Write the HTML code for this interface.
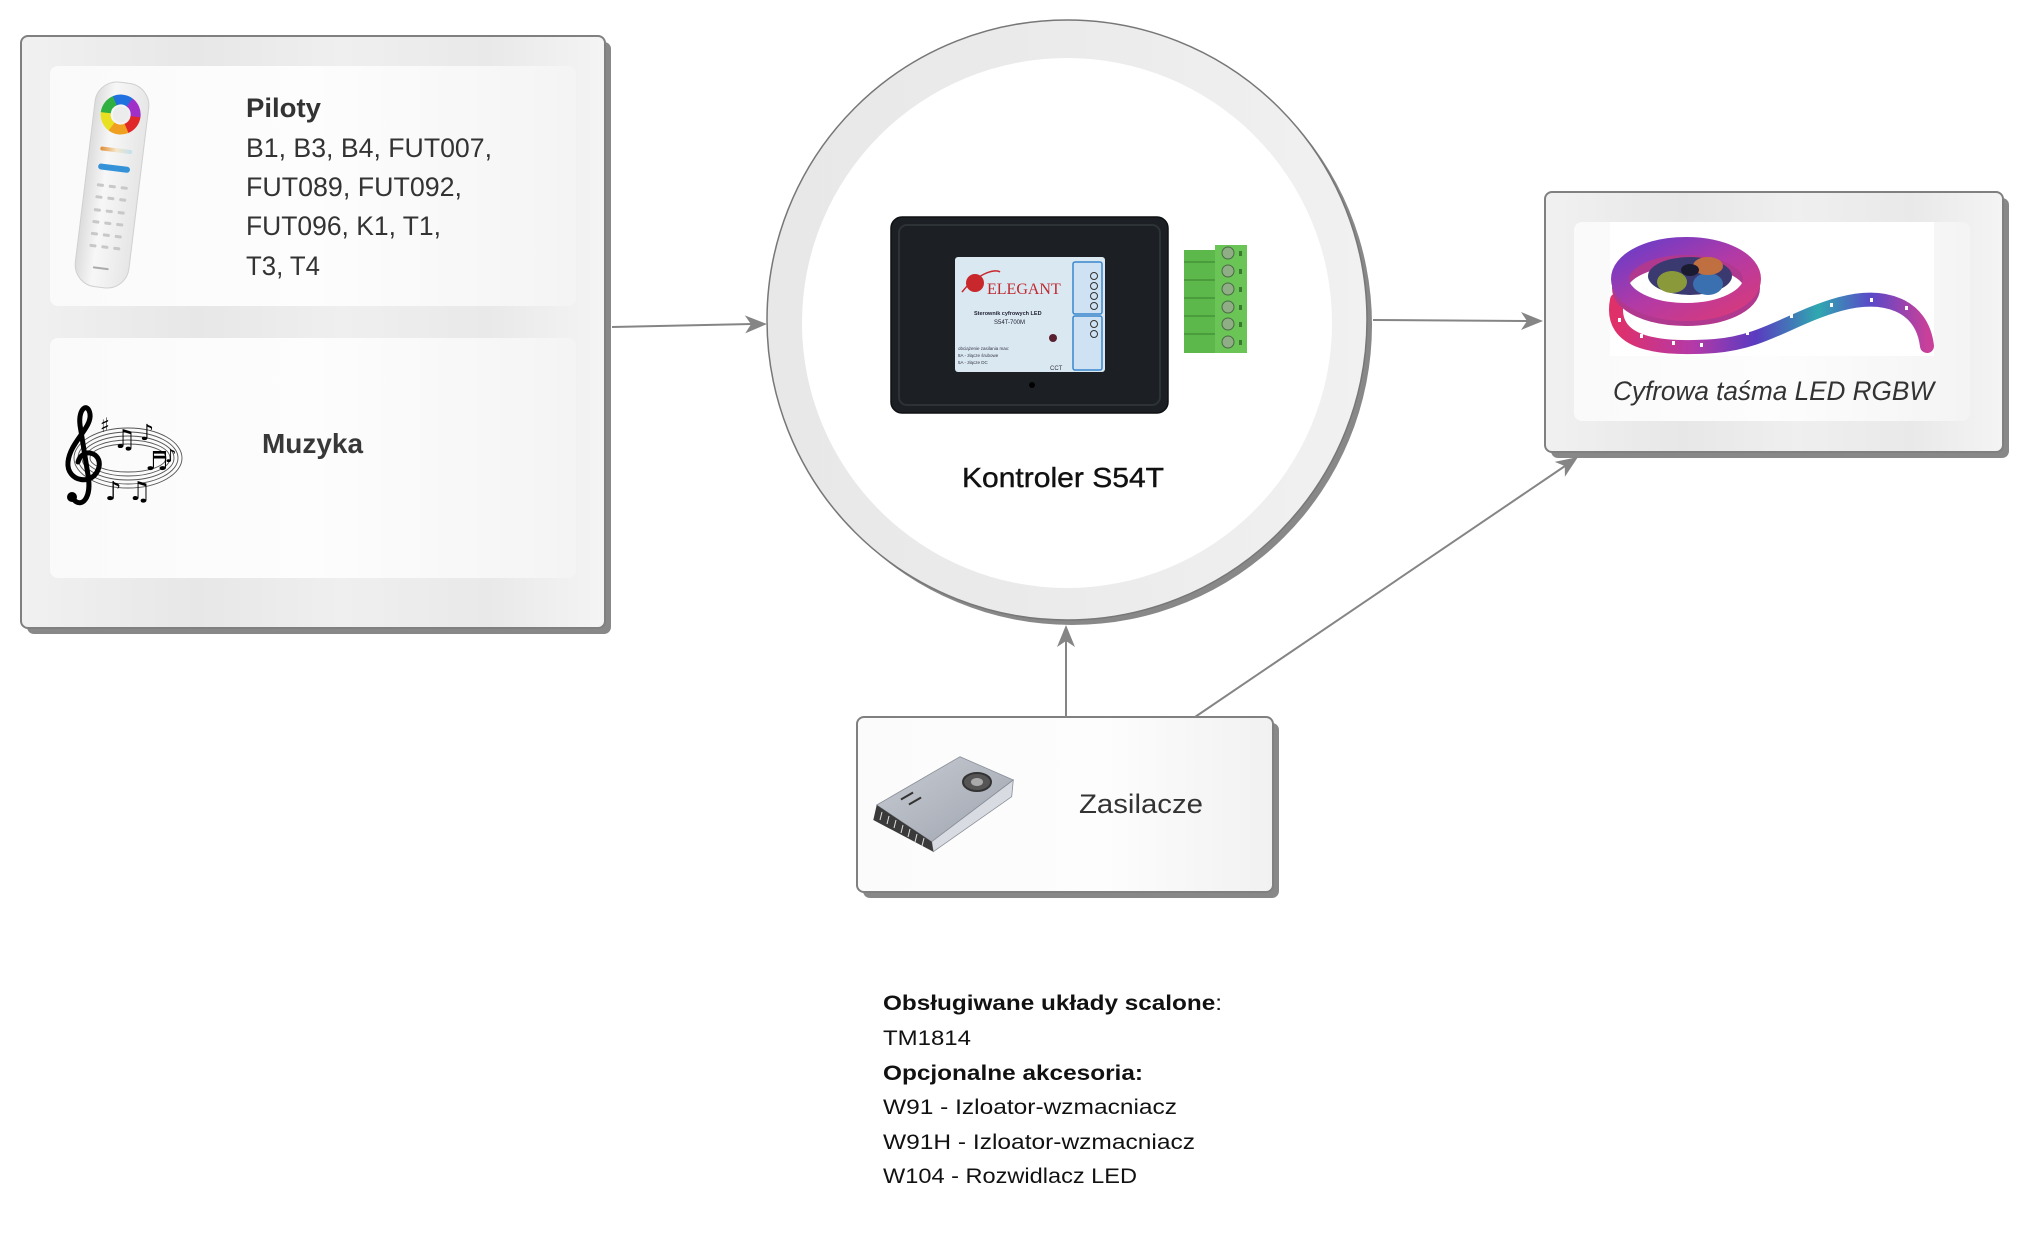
<!DOCTYPE html>
<html>
<head>
<meta charset="utf-8">
<style>
  html,body{margin:0;padding:0;background:#fff;}
  body{width:2030px;height:1244px;overflow:hidden;}
  svg{display:block;}
  text{font-family:"Liberation Sans", sans-serif;}
</style>
</head>
<body>
<svg width="2030" height="1244" viewBox="0 0 2030 1244" xmlns="http://www.w3.org/2000/svg">
  <defs>
    <linearGradient id="outerG" x1="0" y1="0" x2="1" y2="0">
      <stop offset="0" stop-color="#f1f1f1"/>
      <stop offset="0.3" stop-color="#e7e7e7"/>
      <stop offset="0.55" stop-color="#efefef"/>
      <stop offset="0.8" stop-color="#e9e9e9"/>
      <stop offset="1" stop-color="#f4f4f4"/>
    </linearGradient>
    <linearGradient id="innerG" x1="0" y1="0" x2="1" y2="0">
      <stop offset="0" stop-color="#fafafa"/>
      <stop offset="0.5" stop-color="#fdfdfd"/>
      <stop offset="1" stop-color="#f4f4f4"/>
    </linearGradient>
    <linearGradient id="botG" x1="0" y1="0" x2="1" y2="0">
      <stop offset="0" stop-color="#fbfbfb"/>
      <stop offset="0.6" stop-color="#fdfdfd"/>
      <stop offset="1" stop-color="#f1f1f1"/>
    </linearGradient>
    <linearGradient id="ringG" x1="0" y1="0" x2="1" y2="0">
      <stop offset="0" stop-color="#e8e8e8"/>
      <stop offset="0.5" stop-color="#ebebeb"/>
      <stop offset="1" stop-color="#f1f1f1"/>
    </linearGradient>
    <linearGradient id="ledG" x1="0" y1="0" x2="1" y2="0">
      <stop offset="0" stop-color="#e0306a"/>
      <stop offset="0.25" stop-color="#b33aa8"/>
      <stop offset="0.45" stop-color="#5a3bc0"/>
      <stop offset="0.65" stop-color="#2fa8b0"/>
      <stop offset="0.82" stop-color="#5a48c8"/>
      <stop offset="1" stop-color="#c8409a"/>
    </linearGradient>
    <linearGradient id="coilG" x1="0" y1="0" x2="1" y2="1">
      <stop offset="0" stop-color="#6a3cc8"/>
      <stop offset="0.5" stop-color="#b23aa6"/>
      <stop offset="1" stop-color="#d83a7a"/>
    </linearGradient>
    <linearGradient id="remoteG" x1="0" y1="0" x2="1" y2="0">
      <stop offset="0" stop-color="#dcdcdc"/>
      <stop offset="0.35" stop-color="#f7f7f7"/>
      <stop offset="1" stop-color="#e6e6e6"/>
    </linearGradient>
    <linearGradient id="stripG" x1="0" y1="0" x2="1" y2="0">
      <stop offset="0" stop-color="#e08a30"/>
      <stop offset="0.5" stop-color="#f5e6c8"/>
      <stop offset="1" stop-color="#bfe0f0"/>
    </linearGradient>
    <linearGradient id="psTop" x1="0" y1="0" x2="1" y2="1">
      <stop offset="0" stop-color="#c8ccd4"/>
      <stop offset="1" stop-color="#9ea4ae"/>
    </linearGradient>
  </defs>

  <!-- ===== Left box ===== -->
  <rect x="27" y="42" width="584" height="592" rx="7" fill="#888"/>
  <rect x="21" y="36" width="584" height="592" rx="7" fill="url(#outerG)" stroke="#808080" stroke-width="2"/>
  <rect x="50" y="66" width="526" height="240" rx="8" fill="url(#innerG)"/>
  <rect x="50" y="338" width="526" height="240" rx="8" fill="url(#innerG)"/>

  <!-- remote -->
  <g transform="rotate(7 112 185)">
    <rect x="85" y="82" width="54" height="206" rx="22" fill="url(#remoteG)" stroke="#d0d0d0" stroke-width="1"/>
    <g fill="none" stroke-width="10">
      <circle cx="112" cy="114" r="15" stroke="#e02828" stroke-dasharray="16 100" transform="rotate(0 112 114)"/>
      <circle cx="112" cy="114" r="15" stroke="#f0a020" stroke-dasharray="16 100" transform="rotate(60 112 114)"/>
      <circle cx="112" cy="114" r="15" stroke="#e8e020" stroke-dasharray="16 100" transform="rotate(120 112 114)"/>
      <circle cx="112" cy="114" r="15" stroke="#30b040" stroke-dasharray="16 100" transform="rotate(180 112 114)"/>
      <circle cx="112" cy="114" r="15" stroke="#2070e0" stroke-dasharray="16 100" transform="rotate(240 112 114)"/>
      <circle cx="112" cy="114" r="15" stroke="#a030c8" stroke-dasharray="16 100" transform="rotate(300 112 114)"/>
    </g>
    <circle cx="112" cy="114" r="8" fill="#ececec"/>
    <rect x="96" y="148" width="32" height="4" rx="2" fill="url(#stripG)"/>
    <rect x="96" y="165" width="32" height="6" rx="3" fill="#3592d8"/>
    <g fill="#c8c8c8">
      <rect x="97" y="185" width="7" height="3" rx="1"/><rect x="109" y="185" width="7" height="3" rx="1"/><rect x="121" y="185" width="7" height="3" rx="1"/>
      <rect x="97" y="197" width="7" height="3" rx="1"/><rect x="109" y="197" width="7" height="3" rx="1"/><rect x="121" y="197" width="7" height="3" rx="1"/>
      <rect x="97" y="210" width="7" height="3" rx="1"/><rect x="109" y="210" width="7" height="3" rx="1"/><rect x="121" y="210" width="7" height="3" rx="1"/>
      <rect x="97" y="222" width="7" height="3" rx="1"/><rect x="109" y="222" width="7" height="3" rx="1"/><rect x="121" y="222" width="7" height="3" rx="1"/>
      <rect x="97" y="234" width="7" height="3" rx="1"/><rect x="109" y="234" width="7" height="3" rx="1"/><rect x="121" y="234" width="7" height="3" rx="1"/>
      <rect x="97" y="246" width="7" height="3" rx="1"/><rect x="109" y="246" width="7" height="3" rx="1"/><rect x="121" y="246" width="7" height="3" rx="1"/>
      <rect x="103" y="268" width="16" height="2" rx="1" fill="#aaa"/>
    </g>
  </g>

  <!-- Piloty text -->
  <text x="246" y="117" font-size="27" font-weight="bold" fill="#333" textLength="75" lengthAdjust="spacingAndGlyphs">Piloty</text>
  <text x="246" y="157" font-size="27" fill="#333" textLength="246" lengthAdjust="spacingAndGlyphs">B1, B3, B4, FUT007,</text>
  <text x="246" y="196" font-size="27" fill="#333" textLength="216" lengthAdjust="spacingAndGlyphs">FUT089, FUT092,</text>
  <text x="246" y="235" font-size="27" fill="#333" textLength="195" lengthAdjust="spacingAndGlyphs">FUT096, K1, T1,</text>
  <text x="246" y="275" font-size="27" fill="#333" textLength="74" lengthAdjust="spacingAndGlyphs">T3, T4</text>

  <!-- music image -->
  <g fill="none" stroke="#555" stroke-width="0.9">
    <ellipse cx="128" cy="458" rx="54" ry="30"/>
    <ellipse cx="128" cy="458" rx="50" ry="26"/>
    <ellipse cx="128" cy="458" rx="46" ry="22"/>
    <ellipse cx="128" cy="458" rx="42" ry="18"/>
    <ellipse cx="128" cy="458" rx="38" ry="14"/>
  </g>
  <path d="M74,500 C82,508 92,498 88,475 L80,425 C78,408 88,402 90,414 C92,428 70,442 68,462 C66,482 94,487 99,467 C102,452 82,447 78,462" fill="none" stroke="#000" stroke-width="5" stroke-linecap="round"/>
  <circle cx="72" cy="497" r="5" fill="#000"/>
  <text x="100" y="432" font-size="20" fill="#000" style="font-family:'DejaVu Sans',sans-serif">♯</text>
  <text x="113" y="448" font-size="26" fill="#000" style="font-family:'DejaVu Sans',sans-serif">♫</text>
  <text x="140" y="440" font-size="22" fill="#000" style="font-family:'DejaVu Sans',sans-serif">♪</text>
  <text x="145" y="470" font-size="26" fill="#000" style="font-family:'DejaVu Sans',sans-serif">♬</text>
  <text x="105" y="500" font-size="26" fill="#000" style="font-family:'DejaVu Sans',sans-serif">♪</text>
  <text x="128" y="500" font-size="26" fill="#000" style="font-family:'DejaVu Sans',sans-serif">♫</text>
  <text x="165" y="462" font-size="18" fill="#000" style="font-family:'DejaVu Sans',sans-serif">♪</text>

  <text x="262" y="453" font-size="28" font-weight="bold" fill="#383838" textLength="101" lengthAdjust="spacingAndGlyphs">Muzyka</text>

  <!-- ===== Central circle ===== -->
  <circle cx="1072" cy="325" r="300" fill="#888"/>
  <circle cx="1067" cy="320" r="300" fill="url(#ringG)" stroke="#777" stroke-width="1.5"/>
  <circle cx="1067" cy="323" r="265" fill="#fff"/>

  <!-- device -->
  <rect x="891" y="217" width="277" height="196" rx="11" fill="#1c2024" stroke="#0e1012" stroke-width="1.5"/>
  <rect x="899" y="225" width="261" height="180" rx="8" fill="none" stroke="#2c3236" stroke-width="2"/>
  <rect x="955" y="257" width="150" height="115" rx="3" fill="#dae8f2"/>
  <rect x="1073" y="262" width="29" height="52" rx="2" fill="#cfe2f3" stroke="#3a86cc" stroke-width="1.5"/>
  <rect x="1073" y="316" width="29" height="54" rx="2" fill="#cfe2f3" stroke="#3a86cc" stroke-width="1.5"/>
  <g fill="none" stroke="#333" stroke-width="1">
    <circle cx="1094" cy="276" r="3.5"/><circle cx="1094" cy="286" r="3.5"/><circle cx="1094" cy="296" r="3.5"/><circle cx="1094" cy="306" r="3.5"/>
    <circle cx="1094" cy="324" r="3.5"/><circle cx="1094" cy="334" r="3.5"/>
  </g>
  <circle cx="975" cy="283" r="9" fill="#c8282c"/>
  <path d="M962,292 C975,275 995,268 1000,272" fill="none" stroke="#c8282c" stroke-width="1.5"/>
  <text x="987" y="294" font-size="16" fill="#c0282d" style="font-family:'Liberation Serif',serif">ELEGANT</text>
  <text x="974" y="315" font-size="5.5" font-weight="bold" fill="#223">Sterownik cyfrowych LED</text>
  <text x="994" y="324" font-size="6" fill="#223">S54T-700M</text>
  <text x="958" y="350" font-size="4.5" fill="#334">obciążenie zasilania max:</text>
  <text x="958" y="357" font-size="4.5" fill="#334">8A - złącze śrubowe</text>
  <text x="958" y="364" font-size="4.5" fill="#334">5A - złącze DC</text>
  <text x="1050" y="370" font-size="6" fill="#334">CCT</text>
  <circle cx="1053" cy="338" r="4" fill="#5a2030"/>
  <circle cx="1032" cy="385" r="3" fill="#000"/>

  <!-- green connector -->
  <rect x="1184" y="250" width="40" height="103" fill="#5cb84a"/>
  <rect x="1215" y="245" width="32" height="108" fill="#6ac456"/>
  <g stroke="#3f8c34" stroke-width="1.3">
    <line x1="1184" y1="262" x2="1215" y2="262"/><line x1="1184" y1="280" x2="1215" y2="280"/>
    <line x1="1184" y1="298" x2="1215" y2="298"/><line x1="1184" y1="316" x2="1215" y2="316"/>
    <line x1="1184" y1="334" x2="1215" y2="334"/>
  </g>
  <g fill="#8fae86" stroke="#4a6a44" stroke-width="1">
    <circle cx="1228" cy="253" r="6"/><circle cx="1228" cy="271" r="6"/><circle cx="1228" cy="289" r="6"/>
    <circle cx="1228" cy="307" r="6"/><circle cx="1228" cy="324" r="6"/><circle cx="1228" cy="342" r="6"/>
  </g>
  <g fill="#3a7a30">
    <rect x="1239" y="251" width="3" height="5"/><rect x="1239" y="269" width="3" height="5"/><rect x="1239" y="287" width="3" height="5"/>
    <rect x="1239" y="305" width="3" height="5"/><rect x="1239" y="322" width="3" height="5"/><rect x="1239" y="340" width="3" height="5"/>
  </g>

  <text x="962" y="487" font-size="28" fill="#111" stroke="#111" stroke-width="0.4" textLength="202" lengthAdjust="spacingAndGlyphs">Kontroler S54T</text>

  <!-- ===== Right box ===== -->
  <rect x="1551" y="198" width="458" height="260" rx="7" fill="#888"/>
  <rect x="1545" y="192" width="458" height="260" rx="7" fill="url(#outerG)" stroke="#808080" stroke-width="2"/>
  <rect x="1574" y="222" width="396" height="199" rx="8" fill="url(#innerG)"/>
  <rect x="1610" y="222" width="324" height="134" fill="#fff"/>

  <!-- LED strip -->
  <path d="M1617,300 C1608,345 1660,350 1715,346 C1765,342 1790,318 1840,304 C1885,292 1922,305 1927,346" fill="none" stroke="url(#ledG)" stroke-width="14" stroke-linecap="round"/>
  <ellipse cx="1686" cy="288" rx="66" ry="30" fill="none" stroke="#b0388e" stroke-width="16"/>
  <ellipse cx="1686" cy="279" rx="66" ry="33" fill="none" stroke="url(#coilG)" stroke-width="18"/>
  <ellipse cx="1690" cy="276" rx="42" ry="19" fill="#3a3a70"/>
  <ellipse cx="1672" cy="282" rx="15" ry="11" fill="#8a9a3a"/>
  <ellipse cx="1708" cy="284" rx="15" ry="11" fill="#3a70b0"/>
  <ellipse cx="1708" cy="266" rx="15" ry="9" fill="#c07040"/>
  <ellipse cx="1690" cy="270" rx="9" ry="6" fill="#1a1a30"/>
  <g fill="#fff">
    <rect x="1618" y="318" width="3" height="4"/><rect x="1640" y="334" width="3" height="4"/><rect x="1672" y="341" width="3" height="4"/>
    <rect x="1700" y="343" width="3" height="4"/><rect x="1746" y="331" width="3" height="4"/><rect x="1790" y="314" width="3" height="4"/>
    <rect x="1830" y="303" width="3" height="4"/><rect x="1870" y="298" width="3" height="4"/><rect x="1905" y="306" width="3" height="4"/>
  </g>

  <text x="1613" y="400" font-size="27" font-style="italic" fill="#333" textLength="321" lengthAdjust="spacingAndGlyphs">Cyfrowa taśma LED RGBW</text>

  <!-- ===== Bottom box ===== -->
  <rect x="863" y="723" width="416" height="175" rx="7" fill="#888"/>
  <rect x="857" y="717" width="416" height="175" rx="7" fill="url(#botG)" stroke="#808080" stroke-width="2"/>

  <!-- power supply -->
  <polygon points="876.7,805 960,756.7 1013.3,780 931.7,841.7" fill="url(#psTop)" stroke="#8a8f98" stroke-width="0.8"/>
  <polygon points="931.7,841.7 1013.3,780 1011.7,796.7 933.3,851.7" fill="#d8dce2" stroke="#8a8f98" stroke-width="0.8"/>
  <polygon points="876.7,805 931.7,841.7 933.3,851.7 873.3,820" fill="#3a3a3a"/>
  <g stroke="#ddd" stroke-width="1">
    <line x1="882" y1="812" x2="880" y2="820"/><line x1="889" y1="816" x2="887" y2="824"/><line x1="896" y1="820" x2="894" y2="828"/>
    <line x1="903" y1="825" x2="901" y2="833"/><line x1="910" y1="829" x2="908" y2="837"/><line x1="917" y1="834" x2="915" y2="842"/>
    <line x1="924" y1="838" x2="922" y2="846"/>
  </g>
  <ellipse cx="977" cy="782" rx="14" ry="9" fill="#555" stroke="#333" stroke-width="2"/>
  <ellipse cx="977" cy="782" rx="6" ry="4" fill="#aaa"/>
  <g fill="#333">
    <rect x="900" y="795" width="14" height="2" transform="rotate(-30 907 796)"/>
    <rect x="908" y="800" width="14" height="2" transform="rotate(-30 915 801)"/>
  </g>

  <text x="1079" y="813" font-size="27" fill="#333" textLength="124" lengthAdjust="spacingAndGlyphs">Zasilacze</text>

  <!-- ===== Connectors ===== -->
  <g stroke="#858585" stroke-width="2" fill="none">
    <line x1="612" y1="327" x2="752" y2="324"/>
    <line x1="1373" y1="320" x2="1528" y2="321"/>
    <line x1="1066" y1="717" x2="1066" y2="640"/>
    <line x1="1195" y1="717" x2="1565" y2="466"/>
  </g>
  <g fill="#858585">
    <polygon points="767,324 745.2,333.4 751,324.3 744.8,315.4"/>
    <polygon points="1543,321 1521,330 1527,321 1521,312"/>
    <polygon points="1066,625 1075,647 1066,641 1057,647"/>
    <polygon points="1578,457 1564.9,476.8 1564.8,466 1554.7,461.9"/>
  </g>

  <!-- ===== Bottom text ===== -->
  <g fill="#111" font-size="21">
    <text x="883" y="1010" font-weight="bold" textLength="339" lengthAdjust="spacingAndGlyphs">Obsługiwane układy scalone<tspan font-weight="normal">:</tspan></text>
    <text x="883" y="1045" textLength="88" lengthAdjust="spacingAndGlyphs">TM1814</text>
    <text x="883" y="1080" font-weight="bold" textLength="260" lengthAdjust="spacingAndGlyphs">Opcjonalne akcesoria:</text>
    <text x="883" y="1114" textLength="294" lengthAdjust="spacingAndGlyphs">W91 - Izloator-wzmacniacz</text>
    <text x="883" y="1149" textLength="312" lengthAdjust="spacingAndGlyphs">W91H - Izloator-wzmacniacz</text>
    <text x="883" y="1183" textLength="254" lengthAdjust="spacingAndGlyphs">W104 - Rozwidlacz LED</text>
  </g>
</svg>
</body>
</html>
